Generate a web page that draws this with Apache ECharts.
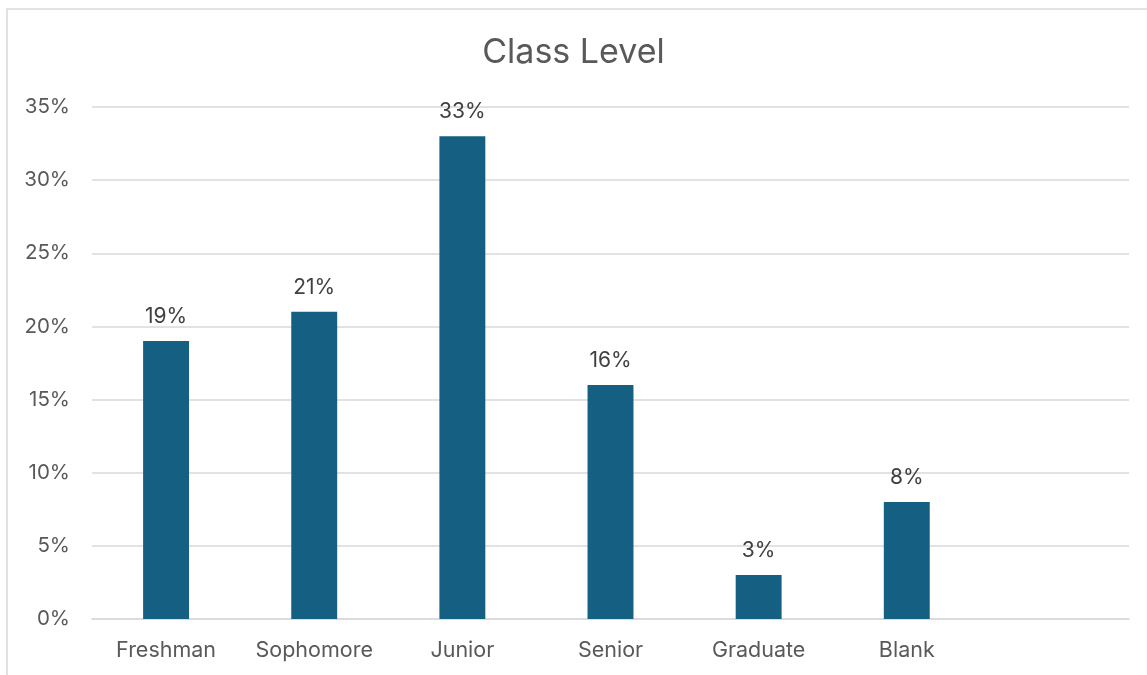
<!DOCTYPE html>
<html>
<head>
<meta charset="utf-8">
<script src="https://cdn.jsdelivr.net/npm/echarts@6/dist/echarts.min.js"></script>
<style>html,body{margin:0;padding:0;background:#fff;}#c{width:1147px;height:675px;}</style>
</head>
<body>
<div id="c"></div>
<script>
const categories = ['Freshman', 'Sophomore', 'Junior', 'Senior', 'Graduate', 'Blank', ''];
const values = [19, 21, 33, 16, 3, 8, null];
const yTicks = [0, 5, 10, 15, 20, 25, 30, 35];

const FONT = 'Inter';
const chart = echarts.init(document.getElementById('c'));
chart.setOption({
  animation: false,
  backgroundColor: '#fff',
  graphic: [{
    type: 'rect', shape: { x: 7, y: 9, width: 1170, height: 700 },
    style: { fill: 'none', stroke: '#d9d9d9', lineWidth: 1.5 }, silent: true, z: -1
  }],
  title: {
    text: 'Class Level', left: 'center', top: 31,
    textStyle: { fontFamily: FONT, fontSize: 34, fontWeight: 'normal', color: '#595959' }
  },
  grid: { left: 92, right: 18, top: 107, bottom: 56 },
  xAxis: {
    type: 'category', data: categories,
    axisLine: { lineStyle: { color: '#d9d9d9', width: 1.5 } },
    axisTick: { show: false },
    axisLabel: { fontFamily: FONT, fontSize: 21.5, color: '#595959', margin: 21, interval: 0, hideOverlap: false }
  },
  yAxis: {
    type: 'value', min: yTicks[0], max: yTicks[yTicks.length - 1], interval: 5,
    axisLine: { show: false }, axisTick: { show: false },
    splitLine: { lineStyle: { color: '#d9d9d9', width: 1.5 } },
    axisLabel: { fontFamily: FONT, fontSize: 20.5, color: '#595959', margin: 22, formatter: v => v + '%' }
  },
  series: [{
    type: 'bar', data: values, barWidth: '31%',
    itemStyle: { color: '#156082' },
    label: {
      show: true, position: 'top', distance: 14,
      fontFamily: FONT, fontSize: 21, color: '#404040',
      formatter: p => p.value + '%'
    }
  }]
});
</script>
</body>
</html>
